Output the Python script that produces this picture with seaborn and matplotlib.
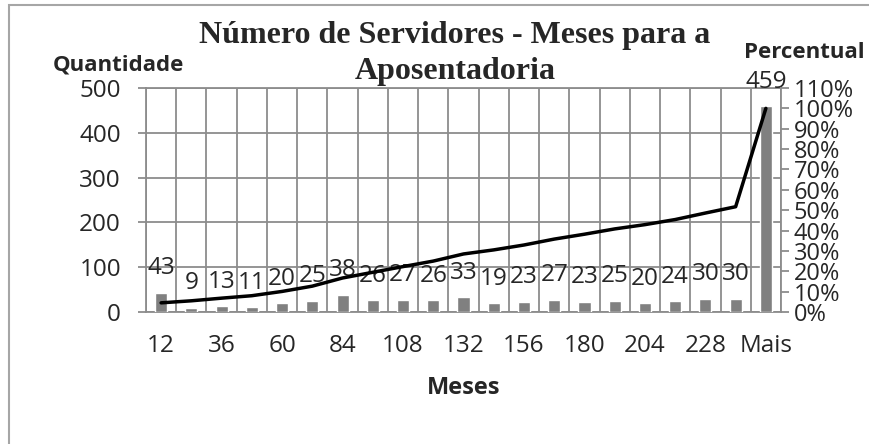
"""
Número de Servidores - Meses para a Aposentadoria
barras = quantidade por faixa de meses, linha = percentual acumulado
"""
##
import numpy as np
import pandas as pd
import seaborn as sns
import matplotlib.pyplot as plt
from matplotlib.patches import Rectangle

##
# dados
meses = ['12', '24', '36', '48', '60', '72', '84', '96', '108', '120', '132',
         '144', '156', '168', '180', '192', '204', '216', '228', '240', 'Mais']
quantidade = [43, 9, 13, 11, 20, 25, 38, 26, 27, 26, 33,
              19, 23, 27, 23, 25, 20, 24, 30, 30, 459]
percentual = [0.045, 0.055, 0.068, 0.080, 0.101, 0.127, 0.167, 0.195, 0.223, 0.250, 0.285,
              0.305, 0.329, 0.358, 0.382, 0.408, 0.429, 0.454, 0.486, 0.517, 1.0]

df = pd.DataFrame({'Meses': meses, 'Quantidade': quantidade, 'Percentual': percentual})

##
sns.set_style('white')
plt.rcParams['font.family'] = ['Open Sans', 'DejaVu Sans']
grid_color = '#8c8c8c'
fs = 17.5

fig = plt.figure(figsize=(8.7, 4.44), dpi=100)
ax = fig.add_axes([146 / 870, 1 - 312 / 444, (781 - 146) / 870, (312 - 88) / 444])

sns.barplot(data=df, x='Meses', y='Quantidade', order=meses, color='#808080',
            width=0.4, saturation=1, ax=ax, zorder=3)
ax.set_xlim(-0.5, len(meses) - 0.5)
ax.set_ylim(0, 500)
ax.set_yticks(np.arange(0, 501, 100))

# grade vertical nas divisões das categorias
ax.set_xticks(np.arange(-0.5, len(meses), 1), minor=True)
ax.set_xticks(np.arange(0, len(meses), 2))
ax.set_xticklabels(meses[::2])
ax.grid(True, which='minor', axis='x', color=grid_color, lw=1.3, zorder=0)
ax.grid(True, which='major', axis='y', color=grid_color, lw=1.3, zorder=0)
ax.set_axisbelow(True)
ax.tick_params(axis='x', which='major', length=0, pad=16, labelsize=fs)
ax.tick_params(axis='x', which='minor', length=6, width=1.3, color=grid_color, direction='out')
ax.tick_params(axis='y', length=6, width=1.3, color=grid_color, labelsize=fs, pad=12, left=True)
for s in ['left', 'bottom', 'top']:
    ax.spines[s].set_color(grid_color)
    ax.spines[s].set_linewidth(1.3)
ax.spines['right'].set_visible(False)
ax.set_xlabel('Meses', fontsize=17, fontweight='bold', labelpad=13)
ax.set_ylabel('')

# rótulos de dados
for i, v in enumerate(quantidade):
    ax.annotate(str(v), (i, v), xytext=(0, 9), textcoords='offset points',
                ha='center', va='bottom', fontsize=fs)

##
# eixo secundário com percentual acumulado
ax2 = ax.twinx()
sns.lineplot(data=df, x='Meses', y='Percentual', color='black', lw=2.5, ax=ax2,
             sort=False, zorder=4)
ax2.set_xlim(-0.5, len(meses) - 0.5)
ax2.set_ylim(0, 1.1)
ax2.set_yticks(np.arange(0, 1.11, 0.1))
ax2.set_yticklabels([f'{int(round(t * 100))}%' for t in np.arange(0, 1.11, 0.1)])
ax2.tick_params(axis='y', length=6, width=1.3, color=grid_color, labelsize=17, pad=3,
                right=True)
ax2.set_ylabel('')
for s in ['left', 'bottom', 'top']:
    ax2.spines[s].set_visible(False)
ax2.spines['right'].set_color(grid_color)
ax2.spines['right'].set_linewidth(1.3)

##
# títulos
fig.text(455 / 870, 1 - 35 / 444, 'Número de Servidores - Meses para a',
         family='Liberation Serif', fontweight='bold', fontsize=23, ha='center', va='center')
fig.text(455 / 870, 1 - 72 / 444, 'Aposentadoria',
         family='Liberation Serif', fontweight='bold', fontsize=23, ha='center', va='center')
fig.text(118 / 870, 1 - 65 / 444, 'Quantidade', fontsize=16, fontweight='bold',
         ha='center', va='center')
fig.text(804 / 870, 1 - 52 / 444, 'Percentual', fontsize=16, fontweight='bold',
         ha='center', va='center')

# moldura
fig.patches.append(Rectangle((9 / 870, -0.1), 2, 1 - 5 / 444 + 0.1, transform=fig.transFigure,
                             fill=False, edgecolor='#a6a6a6', lw=1.5))

fig.savefig('out.png', dpi=100)
